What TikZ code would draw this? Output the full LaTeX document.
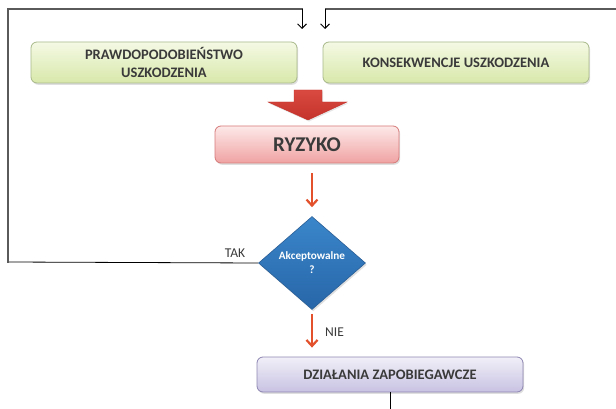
\documentclass[tikz,border=0pt]{standalone}
\usepackage{fontspec}
\setmainfont{Carlito}
\usetikzlibrary{arrows.meta,shapes.geometric,shadows,positioning}
\definecolor{framegray}{HTML}{5A5A5A}
\definecolor{txtgray}{HTML}{3A3A3A}
\definecolor{greentop}{HTML}{F4F9E4}
\definecolor{greenbot}{HTML}{D8E8AA}
\definecolor{greenline}{HTML}{A9B98A}
\definecolor{redtop}{HTML}{FDE9E9}
\definecolor{redbot}{HTML}{F0A2A2}
\definecolor{redline}{HTML}{D77A7A}
\definecolor{bigred}{HTML}{C4322B}
\definecolor{bigredtop}{HTML}{DA4A40}
\definecolor{arrowred}{HTML}{E2502C}
\definecolor{bluetop}{HTML}{3A86CA}
\definecolor{bluebot}{HTML}{2766A8}
\definecolor{blueline}{HTML}{2A5E96}
\definecolor{purptop}{HTML}{F1EFF8}
\definecolor{purpbot}{HTML}{C8C2E2}
\definecolor{purpline}{HTML}{8E86B2}
\tikzset{
  softshadow/.style={drop shadow={opacity=0.25,shadow xshift=1.2pt,shadow yshift=-1.8pt}},
  greenbox/.style={draw=greenline,line width=0.8pt,rounded corners=6pt,top color=greentop,bottom color=greenbot,
    minimum width=266pt,minimum height=41pt,inner sep=0pt,align=center,text=txtgray,
    font=\fontsize{14.5}{18}\selectfont\bfseries,softshadow},
  redbox/.style={draw=redline,line width=0.8pt,rounded corners=6pt,top color=redtop,bottom color=redbot,
    minimum width=184pt,minimum height=37pt,inner sep=0pt,text=txtgray,
    font=\fontsize{21}{24}\selectfont\bfseries,softshadow},
  purpbox/.style={draw=purpline,line width=0.8pt,rounded corners=6pt,top color=purptop,bottom color=purpbot,
    minimum width=266pt,minimum height=35pt,inner sep=0pt,text=txtgray,
    font=\fontsize{14.5}{18}\selectfont\bfseries,softshadow},
  decision/.style={diamond,draw=blueline,line width=0.6pt,top color=bluetop,bottom color=bluebot,
    minimum width=107pt,minimum height=93pt,inner sep=0pt,text=white,align=center,
    font=\fontsize{11.2}{14}\selectfont\bfseries,softshadow},
  framegrayline/.style={draw=framegray,line width=1.4pt},
  blackline/.style={draw=black,line width=0.8pt},
  loopend/.style={-{Straight Barb[length=4.5pt,width=9pt,line width=0.9pt]},draw=black,line width=0.8pt},
  redarrow/.style={-{Straight Barb[length=6pt,width=11pt,line width=2.2pt]},draw=arrowred,line width=2.2pt},
  plainlabel/.style={text=txtgray,font=\fontsize{13.5}{16}\selectfont,inner sep=0pt}
}
\begin{document}
\begin{tikzpicture}[x=1pt,y=-1pt]
\useasboundingbox[fill=white] (0,0) rectangle (616,409);

% boxes
\node[greenbox] (prob) at (164,62.5) {PRAWDOPODOBIEŃSTWO\\USZKODZENIA};
\node[greenbox] (kons) at (456,62.5) {KONSEKWENCJE USZKODZENIA};
\node[redbox] (ryz) at (307,144.5) {RYZYKO};
\node[decision] (acc) at (312,263) {Akceptowalne\\?};
\node[purpbox] (dzial) at (390,374.5) {DZIAŁANIA ZAPOBIEGAWCZE};

% big red block arrow
\path[top color=bigredtop,bottom color=bigred,draw=bigred,line width=0.4pt,drop shadow={opacity=0.2,shadow xshift=1pt,shadow yshift=-1.5pt}]
  (294,90) -- (322,90) -- (322,102) -- (347,102) -- (308,120) -- (268,102) -- (294,102) -- cycle;

% coordinates for loop lines
\coordinate (lcorner) at (8,262);
\coordinate (ltop) at (8,9);
\coordinate (lturn) at (302,9);
\coordinate (lend) at (302,29);
\coordinate (rstart) at (616,9);
\coordinate (rturn) at (325,9);
\coordinate (rend) at (325,29);
\coordinate (dout) at (390,409);

% red arrows
\draw[redarrow] ([yshift=-10pt]ryz.south -| acc.north) -- ([yshift=9pt]acc.north);
\draw[redarrow] ([yshift=-4pt]acc.south) -- ([yshift=9pt]dzial.north -| acc.south);
\node[plainlabel,anchor=west] (nie) at (325,332) {NIE};

% TAK loop
\draw[blackline] (acc.west) -- (lcorner);
\node[plainlabel,anchor=south] (tak) at (235,258) {TAK};
\draw[framegrayline,line cap=rect] (lcorner) -- (ltop) -- (lturn);
\draw[loopend] (lturn) -- (lend);

% right loop
\draw[framegrayline] (rstart) -- (rturn);
\draw[loopend] (rturn) -- (rend);

% bottom exit
\draw[blackline] (dzial.south) -- (dout);
\end{tikzpicture}
\end{document}
